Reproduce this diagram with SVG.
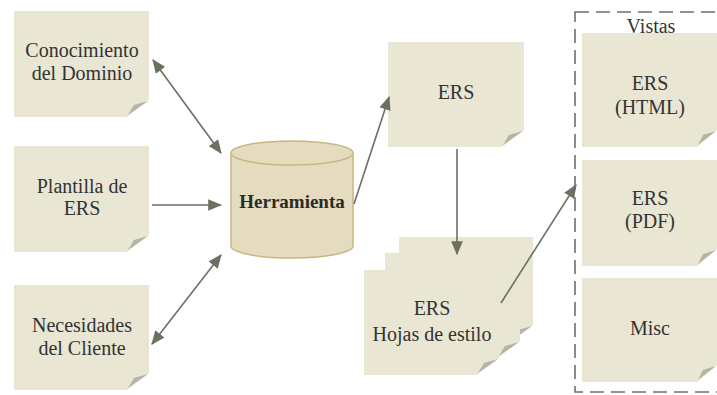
<svg xmlns="http://www.w3.org/2000/svg" width="717" height="395" viewBox="0 0 717 395">
  <style>
    .note { fill: #e9e6d4; }
    .curl { fill: #b5b3a2; }
    .txt { font-family: "Liberation Serif", "DejaVu Serif", serif; font-size: 20px; fill: #333333; text-anchor: middle; }
    .bold { font-weight: bold; font-size: 19px; fill: #2a2a2a; }
    .conn { stroke: #6b7160; stroke-width: 1.6; fill: none; }
    .cyl { fill: #e5dcbf; stroke: #c6b783; stroke-width: 1.5; }
    .frame { fill: none; stroke: #707070; stroke-width: 1.6; stroke-dasharray: 14 7; }
  </style>
  <defs>
    <marker id="head" viewBox="0 0 12 10" refX="11" refY="5" markerWidth="14" markerHeight="12" markerUnits="userSpaceOnUse" orient="auto-start-reverse">
      <path d="M0,0 L12,5 L0,10 Z" fill="#6b7160"/>
    </marker>
  </defs>

  <rect width="717" height="395" fill="#ffffff"/>

  <!-- Inputs -->
  <g id="conocimiento" transform="translate(14,11)">
    <path class="note" d="M0,0 H135 V89 L113,106 H0 Z"/>
    <path class="curl" d="M114,104 L134,90 L120,94 Z"/>
    <text class="txt" x="68" y="46">Conocimiento</text>
    <text class="txt" x="68" y="69">del Dominio</text>
  </g>

  <g id="plantilla" transform="translate(14,146)">
    <path class="note" d="M0,0 H135 V89 L113,106 H0 Z"/>
    <path class="curl" d="M114,104 L134,90 L120,94 Z"/>
    <text class="txt" x="68" y="47">Plantilla de</text>
    <text class="txt" x="68" y="69">ERS</text>
  </g>

  <g id="necesidades" transform="translate(14,285)">
    <path class="note" d="M0,0 H135 V88 L113,105 H0 Z"/>
    <path class="curl" d="M114,103 L134,89 L120,93 Z"/>
    <text class="txt" x="68" y="47">Necesidades</text>
    <text class="txt" x="68" y="70">del Cliente</text>
  </g>

  <!-- Tool (cylinder) -->
  <g id="herramienta">
    <path class="cyl" d="M231,153 A61,12 0 0 1 353,153 V246 A61,12 0 0 1 231,246 Z"/>
    <path class="cyl" d="M231,153 A61,12 0 0 0 353,153"/>
    <text class="txt bold" x="292" y="208">Herramienta</text>
  </g>

  <!-- Generated ERS -->
  <g id="ers" transform="translate(388,42)">
    <path class="note" d="M0,0 H136 V88 L114,105 H0 Z"/>
    <path class="curl" d="M115,103 L135,89 L121,93 Z"/>
    <text class="txt" x="68" y="57">ERS</text>
  </g>

  <!-- Stylesheets: a stack of three sheets -->
  <g id="hojas">
    <g transform="translate(399,237)">
      <path class="note" d="M0,0 H134 V88 L112,105 H0 Z"/>
      <path class="curl" d="M113,103 L133,89 L119,93 Z"/>
    </g>
    <g transform="translate(385,253)">
      <path class="note" d="M0,0 H135 V88 L113,105 H0 Z"/>
      <path class="curl" d="M114,103 L134,89 L120,93 Z"/>
    </g>
    <g transform="translate(364,270)">
      <path class="note" d="M0,0 H135 V88 L113,105 H0 Z"/>
      <path class="curl" d="M114,103 L134,89 L120,93 Z"/>
      <text class="txt" x="68" y="45">ERS</text>
      <text class="txt" x="68" y="71">Hojas de estilo</text>
    </g>
  </g>

  <!-- Views -->
  <g id="vistas">
    <rect class="frame" x="575" y="12" width="150" height="380"/>
    <text class="txt" x="651" y="33">Vistas</text>
  </g>

  <g id="ers-html" transform="translate(582,33)">
    <path class="note" d="M0,0 H135 V97 L115,114 H0 Z"/>
    <path class="curl" d="M116,112 L134,98 L121,102 Z"/>
    <text class="txt" x="68" y="57">ERS</text>
    <text class="txt" x="68" y="81">(HTML)</text>
  </g>

  <g id="ers-pdf" transform="translate(582,160)">
    <path class="note" d="M0,0 H135 V89 L115,106 H0 Z"/>
    <path class="curl" d="M116,104 L134,90 L121,94 Z"/>
    <text class="txt" x="68" y="45">ERS</text>
    <text class="txt" x="68" y="68">(PDF)</text>
  </g>

  <g id="misc" transform="translate(582,278)">
    <path class="note" d="M0,0 H135 V87 L115,104 H0 Z"/>
    <path class="curl" d="M116,102 L134,88 L121,92 Z"/>
    <text class="txt" x="68" y="57">Misc</text>
  </g>

  <!-- Connectors -->
  <g id="connectors">
    <line class="conn" x1="153" y1="60" x2="221" y2="153" marker-start="url(#head)" marker-end="url(#head)"/>
    <line class="conn" x1="152" y1="205" x2="221" y2="205" marker-end="url(#head)"/>
    <line class="conn" x1="152" y1="344" x2="221" y2="255" marker-start="url(#head)" marker-end="url(#head)"/>
    <line class="conn" x1="354" y1="204" x2="389" y2="97" marker-end="url(#head)"/>
    <line class="conn" x1="457" y1="149" x2="457" y2="254" marker-end="url(#head)"/>
    <line class="conn" x1="501" y1="303" x2="576" y2="185" marker-end="url(#head)"/>
  </g>
</svg>
